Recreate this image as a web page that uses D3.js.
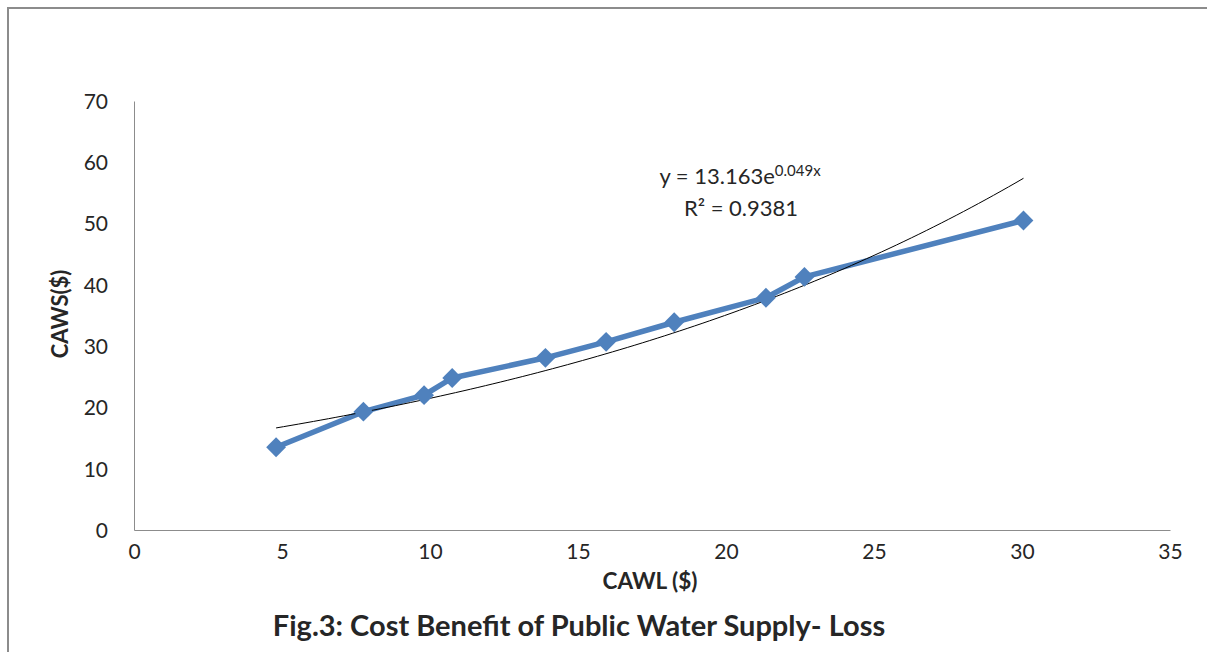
<!DOCTYPE html>
<html>
<head>
<meta charset="utf-8">
<script src="https://cdn.jsdelivr.net/npm/d3@7"></script>
<style>
  html, body { margin: 0; padding: 0; background: #fff; }
  svg { display: block; }
  text { font-family: Lato, "Open Sans", sans-serif; fill: #262626; }
</style>
</head>
<body>
<svg id="chart" width="1207" height="652"></svg>
<script>
// ---- Data ----
const cawl = [4.8, 7.75, 9.8, 10.75, 13.9, 15.95, 18.25, 21.35, 22.65, 30.05];   // x ($)
const caws = [13.5, 19.3, 22.0, 24.8, 28.1, 30.7, 33.9, 37.9, 41.3, 50.5];      // y ($)
const xTicks = [0, 5, 10, 15, 20, 25, 30, 35];
const yTicks = [0, 10, 20, 30, 40, 50, 60, 70];
const trendA = 13.163;
const trendB = 0.049;
const equationText = "y = 13.163e";
const equationExp = "0.049x";
const r2Text = "R² = 0.9381";
const xTitle = "CAWL ($)";
const yTitle = "CAWS($)";
const figTitle = "Fig.3: Cost Benefit of Public Water Supply- Loss";

// ---- Layout ----
const svg = d3.select("#chart");
const plot = { left: 134, right: 1170, top: 101, bottom: 530 };

const x = d3.scaleLinear().domain([0, 35]).range([plot.left, plot.right]);
const y = d3.scaleLinear().domain([0, 70]).range([plot.bottom, plot.top]);

// outer frame (cut off at right/bottom)
svg.append("rect")
  .attr("x", 8).attr("y", 8)
  .attr("width", 1230).attr("height", 700)
  .attr("fill", "none").attr("stroke", "#8c8c8c").attr("stroke-width", 2);

// axes
const xAxis = d3.axisBottom(x).tickValues(xTicks).tickSize(0).tickPadding(14).tickFormat(d3.format("d"));
const yAxis = d3.axisLeft(y).tickValues(yTicks).tickSize(0).tickPadding(26).tickFormat(d3.format("d"));

const gx = svg.append("g").attr("transform", `translate(0,${plot.bottom})`).call(xAxis);
const gy = svg.append("g").attr("transform", `translate(${plot.left},0)`).call(yAxis);
[gx, gy].forEach(g => {
  g.select(".domain").attr("stroke", "#8c8c8c").attr("stroke-width", 1);
  g.selectAll("text").style("font-family", "Lato, sans-serif").style("font-size", "21px").attr("fill", "#262626");
});
gy.selectAll("text").attr("dy", "0.35em");

// trendline (from displayed equation coefficients)
const xmin = d3.min(cawl), xmax = d3.max(cawl);
const trendPts = d3.range(0, 101).map(i => {
  const xv = xmin + (xmax - xmin) * i / 100;
  return [xv, trendA * Math.exp(trendB * xv)];
});

// series line
const line = d3.line().x(d => x(d[0])).y(d => y(d[1]));
const pts = cawl.map((v, i) => [v, caws[i]]);

svg.append("path")
  .datum(pts)
  .attr("d", line)
  .attr("fill", "none")
  .attr("stroke", "#4f81bd")
  .attr("stroke-width", 5.5)
  .attr("stroke-linejoin", "round");

svg.append("path")
  .datum(trendPts)
  .attr("d", line)
  .attr("fill", "none")
  .attr("stroke", "#000")
  .attr("stroke-width", 1);

// diamond markers
const diamond = d3.symbol().type(d3.symbolDiamond2).size(250);
svg.append("g").selectAll("path")
  .data(pts)
  .join("path")
  .attr("d", diamond)
  .attr("transform", d => `translate(${x(d[0])},${y(d[1])})`)
  .attr("fill", "#4f81bd");

// equation label
const eq = svg.append("text")
  .attr("x", 740).attr("y", 184)
  .attr("text-anchor", "middle")
  .style("font-size", "22px");
eq.append("tspan").text(equationText);
eq.append("tspan").attr("dy", "-8").style("font-size", "15px").text(equationExp);

svg.append("text")
  .attr("x", 741).attr("y", 216)
  .attr("text-anchor", "middle")
  .style("font-size", "22px")
  .text(r2Text);

// axis titles
svg.append("text")
  .attr("x", 650).attr("y", 589)
  .attr("text-anchor", "middle")
  .style("font-size", "22.5px").style("font-weight", "bold")
  .attr("fill", "#000")
  .text(xTitle);

svg.append("text")
  .attr("transform", "translate(68,314) rotate(-90)")
  .attr("text-anchor", "middle")
  .style("font-size", "22px").style("font-weight", "bold")
  .attr("fill", "#000")
  .text(yTitle);

// figure title
svg.append("text")
  .attr("x", 579).attr("y", 636)
  .attr("text-anchor", "middle")
  .style("font-size", "29px").style("font-weight", "bold")
  .attr("fill", "#000")
  .text(figTitle);
</script>
</body>
</html>
